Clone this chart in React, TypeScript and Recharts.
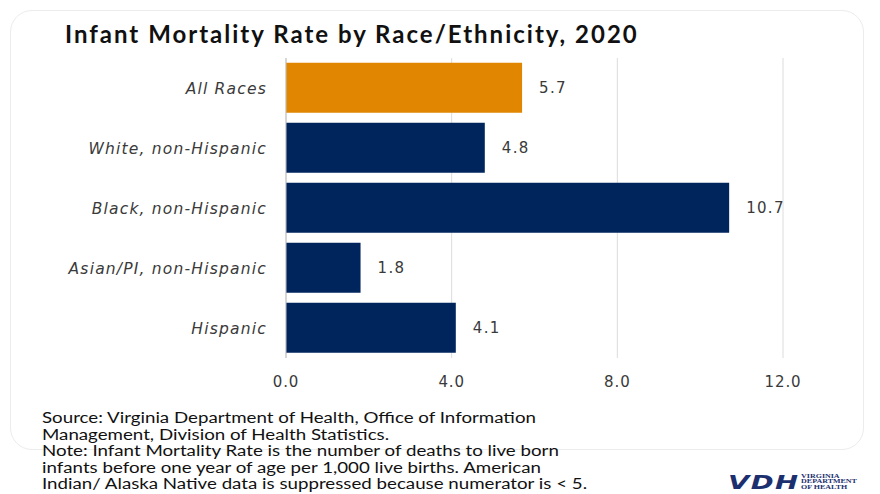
import { BarChart, Bar, XAxis, YAxis, CartesianGrid, Cell, LabelList } from 'recharts'

const groups = ['All Races', 'White, non-Hispanic', 'Black, non-Hispanic', 'Asian/PI, non-Hispanic', 'Hispanic']
const rates = [5.7, 4.8, 10.7, 1.8, 4.1]
const xTicks = [0, 4, 8, 12]
const footLines = [
  'Source: Virginia Department of Health, Office of Information',
  'Management, Division of Health Statistics.',
  'Note: Infant Mortality Rate is the number of deaths to live born',
  'infants before one year of age per 1,000 live births. American',
  'Indian/ Alaska Native data is suppressed because numerator is < 5.',
]

const ORANGE = '#E08600'
const NAVY = '#00245C'
const TXT = '#3a3a3a'
const SANS = '"DejaVu Sans", Verdana, sans-serif'

export default function App() {
  const data = groups.map((name, i) => ({ name, value: rates[i] }))

  return (
    <div style={{ position: 'absolute', left: 0, top: 0, width: 880, height: 494, background: '#fff', overflow: 'hidden' }}>
      <div style={{ position: 'absolute', left: 10, top: 10, width: 852, height: 438, border: '1px solid #ececec', borderRadius: 22 }} />
      <div style={{ position: 'absolute', left: 65, top: 19, fontFamily: 'Lato, sans-serif', fontWeight: 700, fontSize: 24, letterSpacing: 2, color: '#111', whiteSpace: 'nowrap' }}>
        Infant Mortality Rate by Race/Ethnicity, 2020
      </div>
      <div style={{ position: 'absolute', left: 0, top: 0 }}>
        <BarChart width={880} height={400} data={data} layout="vertical" margin={{ top: 58, right: 97, left: 0, bottom: 12 }} barCategoryGap="8%">
          <CartesianGrid horizontal={false} stroke="#dcdcdc" />
          <XAxis
            type="number"
            domain={[0, 12]}
            ticks={xTicks}
            tickFormatter={(v: number) => v.toFixed(1)}
            axisLine={false}
            tickLine={false}
            tickMargin={12}
            height={30}
            tick={{ fontSize: 15, fill: TXT, fontFamily: SANS, letterSpacing: 0.9 }}
          />
          <YAxis
            type="category"
            dataKey="name"
            width={286}
            tickLine={false}
            tickSize={0}
            tickMargin={19}
            axisLine={{ stroke: '#bfbfbf' }}
            tick={{ fontSize: 15.5, fill: TXT, fontFamily: SANS, fontStyle: 'italic', letterSpacing: 1.2 }}
          />
          <Bar dataKey="value" isAnimationActive={false}>
            {data.map((d, i) => (
              <Cell key={d.name} fill={i === 0 ? ORANGE : NAVY} />
            ))}
            <LabelList dataKey="value" position="right" offset={17} formatter={(v: any) => Number(v).toFixed(1)} style={{ fontSize: 15, fill: TXT, fontFamily: SANS, letterSpacing: 1.3 }} />
          </Bar>
        </BarChart>
      </div>
      <div style={{ position: 'absolute', left: 42, top: 410, fontFamily: 'Lato, sans-serif', fontSize: 14.5, lineHeight: '16.5px', color: '#111', whiteSpace: 'nowrap', transform: 'scaleX(1.29)', transformOrigin: 'left top' }}>
        {footLines.map((l) => (
          <div key={l}>{l}</div>
        ))}
      </div>
      <div style={{ position: 'absolute', left: 728, top: 472, display: 'flex', alignItems: 'center', transform: 'scaleX(1.45)', transformOrigin: 'left top' }}>
        <span style={{ fontFamily: '"DejaVu Sans", sans-serif', fontWeight: 700, fontStyle: 'italic', fontSize: 19, lineHeight: '20px', color: '#1c2f6e', letterSpacing: 1 }}>VDH</span>
        <div style={{ fontFamily: '"Liberation Serif", serif', fontSize: 5.5, lineHeight: '5.5px', color: '#1c2f6e', fontWeight: 700, marginLeft: 1 }}>
          <div>VIRGINIA</div>
          <div>DEPARTMENT</div>
          <div>OF HEALTH</div>
        </div>
      </div>
    </div>
  )
}
